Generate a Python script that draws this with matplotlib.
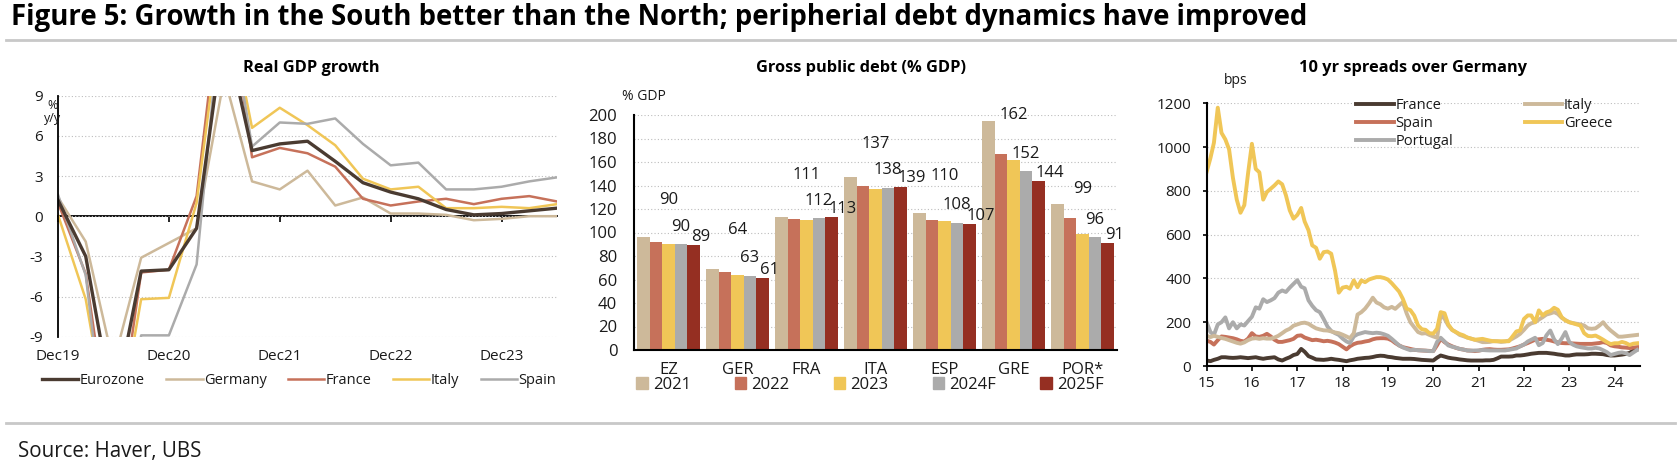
import matplotlib

matplotlib.use("Agg")
import matplotlib.dates as mdates
import matplotlib.pyplot as plt
import numpy as np
import pandas as pd
from matplotlib.lines import Line2D
from matplotlib.patches import Patch

plt.rcParams["font.family"] = ["Open Sans", "DejaVu Sans"]
plt.rcParams["axes.unicode_minus"] = False

# ---------------------------------------------------------------- data
# Real GDP growth, % y/y, quarterly
gdp_quarters = ["Dec19", "Mar20", "Jun20", "Sep20", "Dec20", "Mar21", "Jun21",
                "Sep21", "Dec21", "Mar22", "Jun22", "Sep22", "Dec22", "Mar23",
                "Jun23", "Sep23", "Dec23", "Mar24", "Jun24"]
gdp_tick_labels = ["Dec19", "Dec20", "Dec21", "Dec22", "Dec23"]
gdp_eurozone = [1.2, -3.0, -14.5, -4.1, -4.0, -0.9, 14.2, 4.9, 5.4, 5.6, 4.1,
                2.5, 1.8, 1.3, 0.5, 0.1, 0.2, 0.4, 0.6]
gdp_germany = [1.4, -1.9, -11.0, -3.1, -2.0, -0.9, 10.4, 2.6, 2.0, 3.4, 0.8,
               1.4, 0.2, 0.2, 0.1, -0.3, -0.2, 0.0, 0.0]
gdp_france = [1.0, -4.3, -18.6, -4.2, -4.0, 1.5, 19.0, 4.4, 5.1, 4.7, 3.7,
              1.3, 0.8, 1.1, 1.3, 0.9, 1.3, 1.5, 1.1]
gdp_italy = [0.1, -6.2, -18.0, -6.2, -6.1, 1.0, 17.0, 6.6, 8.1, 6.8, 5.3,
             2.8, 2.0, 2.2, 0.6, 0.6, 0.7, 0.6, 0.9]
gdp_spain = [1.6, -4.4, -21.6, -8.9, -8.9, -3.6, 17.8, 5.2, 7.0, 6.9, 7.3,
             5.4, 3.8, 4.0, 2.0, 2.0, 2.2, 2.6, 2.9]

# Gross public debt, % GDP
debt_countries = ["EZ", "GER", "FRA", "ITA", "ESP", "GRE", "POR*"]
debt_years = ["2021", "2022", "2023", "2024F", "2025F"]
debt_2021 = [96.5, 69, 113, 147, 116.5, 195, 124.5]
debt_2022 = [92, 66, 111.5, 140, 111, 167, 112]
debt_2023 = [90, 64, 111, 137, 110, 162, 99]
debt_2024f = [90, 63, 112, 138, 108, 152, 96]
debt_2025f = [89, 61, 113, 139, 107, 144, 91]

# 10y spreads over Germany, bps, monthly from Jan 2015
spread_start = "2015-01-01"
spread_france = [
    25, 22, 28, 33, 40, 40, 38, 37, 38, 40,
    38, 36, 38, 40, 36, 33, 36, 38, 40, 30,
    25, 33, 40, 50, 55, 78, 65, 45, 38, 30,
    29, 28, 30, 33, 30, 28, 25, 22, 26, 29,
    33, 35, 37, 38, 41, 45, 47, 46, 42, 40,
    37, 35, 33, 33, 33, 32, 30, 28, 27, 26,
    25, 38, 48, 43, 38, 35, 33, 30, 28, 26,
    25, 25, 25, 25, 26, 26, 28, 35, 43, 43,
    43, 44, 48, 48, 50, 53, 56, 58, 60, 60,
    60, 58, 56, 53, 51, 48, 48, 51, 53, 53,
    53, 54, 56, 56, 55, 54, 50, 48, 48, 50,
    52, 55, 60, 70, 75]
spread_spain = [
    116, 110, 98, 118, 135, 133, 130, 127, 122, 115,
    112, 125, 150, 135, 133, 138, 147, 135, 120, 110,
    110, 114, 118, 124, 138, 140, 130, 124, 118, 120,
    117, 113, 115, 112, 107, 100, 88, 76, 90, 100,
    106, 108, 112, 115, 122, 126, 127, 127, 125, 117,
    105, 94, 86, 82, 78, 74, 72, 71, 70, 69,
    68, 95, 124, 109, 98, 90, 83, 78, 75, 71,
    70, 68, 70, 74, 76, 77, 75, 74, 74, 75,
    76, 80, 85, 90, 98, 105, 112, 120, 122, 124,
    120, 117, 112, 108, 105, 104, 104, 103, 102, 101,
    101, 101, 101, 103, 105, 109, 105, 94, 90, 88,
    85, 84, 82, 84, 86]
spread_portugal = [
    200, 155, 142, 190, 200, 222, 172, 200, 172, 190,
    185, 205, 225, 268, 262, 305, 292, 300, 310, 335,
    345, 338, 358, 375, 392, 362, 355, 300, 275, 255,
    246, 215, 180, 160, 150, 142, 125, 112, 105, 135,
    145, 150, 155, 152, 150, 152, 150, 145, 138, 124,
    110, 94, 85, 78, 72, 74, 72, 71, 70, 68,
    68, 110, 129, 112, 94, 88, 84, 78, 75, 71,
    70, 71, 71, 73, 72, 71, 71, 71, 71, 71,
    74, 77, 80, 90, 98, 112, 120, 129, 95, 105,
    140, 162, 122, 100, 125, 155, 110, 97, 90, 86,
    83, 80, 80, 83, 80, 72, 63, 50, 55, 60,
    62, 58, 50, 62, 73]
spread_italy = [
    138, 132, 138, 133, 128, 124, 118, 112, 106, 102,
    108, 118, 125, 127, 124, 127, 125, 125, 130, 138,
    150, 162, 170, 184, 190, 196, 198, 193, 182, 172,
    167, 163, 162, 158, 153, 150, 143, 135, 127, 150,
    235, 246, 262, 285, 312, 290, 282, 268, 262, 270,
    261, 277, 292, 240, 200, 177, 155, 148, 150, 142,
    135, 129, 235, 216, 185, 165, 155, 142, 136, 130,
    125, 120, 115, 109, 109, 110, 114, 113, 110, 112,
    116, 125, 135, 147, 165, 185, 195, 200, 212, 223,
    235, 240, 246, 238, 220, 210, 200, 196, 193, 190,
    185, 172, 170, 172, 185, 200, 178, 162, 148, 134,
    134, 136, 138, 140, 142]
spread_greece = [
    886, 950, 1020, 1180, 1065, 1035, 990, 860, 760, 700,
    735, 880, 1015, 900, 885, 760, 795, 810, 825, 843,
    830, 780, 711, 673, 690, 722, 660, 620, 551, 540,
    490, 520, 523, 513, 435, 335, 358, 362, 353, 391,
    360, 391, 383, 395, 401, 406, 406, 402, 395, 378,
    360, 340, 307, 262, 255, 230, 185, 168, 165, 150,
    148, 170, 246, 241, 190, 165, 155, 146, 140, 130,
    125, 120, 122, 124, 120, 116, 113, 113, 113, 113,
    113, 135, 158, 162, 215, 231, 231, 200, 254, 231,
    245, 251, 266, 257, 223, 208, 200, 195, 190, 185,
    150, 137, 136, 139, 130, 120, 109, 100, 104, 104,
    110, 105, 96, 102, 104]

# ---------------------------------------------------------------- style
DARK = "#4a3b31"
TAN = "#cdb99a"
RED = "#c6715a"
YELLOW = "#f0c657"
GREY = "#ababab"
MAROON = "#952f22"
GRID = dict(color="#bdbdbd", linestyle=(0, (1, 2)), linewidth=0.8)
TXT = "#1a1a1a"

W, H = 1681, 471


def box(left, top, right, bottom):
    """Pixel box -> figure fraction rect."""
    return [left / W, 1 - bottom / H, (right - left) / W, (bottom - top) / H]


fig = plt.figure(figsize=(W / 100, H / 100), dpi=100)

fig.text(11 / W, 1 - 25 / H,
         "Figure 5: Growth in the South better than the North; "
         "peripherial debt dynamics have improved",
         fontsize=19.8, fontweight="bold", color="black", va="baseline")
for y in (40, 422.5):
    fig.add_artist(Line2D([6 / W, 1675 / W], [1 - y / H] * 2,
                          color="#c8c8c8", linewidth=2))
fig.text(18 / W, 1 - 457 / H, "Source: Haver, UBS", fontsize=14.8,
         color=TXT, va="baseline")

for x, title in ((311, "Real GDP growth"), (861, "Gross public debt (% GDP)"),
                 (1413, "10 yr spreads over Germany")):
    fig.text(x / W, 1 - 68 / H, title, fontsize=11.8, fontweight="bold",
             ha="center", va="center", color="black")

# ---------------------------------------------------------------- panel 1
ax1 = fig.add_axes(box(58, 95.7, 557, 336.7))
xq = np.arange(len(gdp_quarters))
series1 = [("Germany", gdp_germany, TAN, 1.8), ("France", gdp_france, RED, 1.8),
           ("Italy", gdp_italy, YELLOW, 1.8), ("Spain", gdp_spain, GREY, 1.8),
           ("Eurozone", gdp_eurozone, DARK, 2.4)]
lines1 = {}
for name, vals, col, lw in series1:
    (lines1[name],) = ax1.plot(xq, vals, color=col, linewidth=lw)
ax1.set_xlim(0, len(gdp_quarters) - 1)
ax1.set_ylim(-9, 9)
ax1.set_yticks([9, 6, 3, 0, -3, -6, -9])
ax1.set_yticklabels(["9", "6", "3", "0", "-3", "-6", "-9"])
ax1.yaxis.grid(True, **GRID)
tick_pos = [gdp_quarters.index(t) for t in gdp_tick_labels]
ax1.set_xticks(tick_pos)
ax1.set_xticklabels(gdp_tick_labels)
ax1.tick_params(axis="x", length=0, pad=9, labelsize=11, labelcolor=TXT)
ax1.tick_params(axis="y", length=0, pad=11, labelsize=11, labelcolor=TXT)
for s in ("top", "right", "bottom"):
    ax1.spines[s].set_visible(False)
ax1.spines["left"].set_linewidth(1.3)
zero = ax1.secondary_xaxis(0.4999)
zero.set_xticks(tick_pos)
zero.set_xticklabels([])
zero.tick_params(length=4, width=1.2, direction="out")
zero.spines["bottom"].set_linewidth(1.3)
ax1.text(-0.01, 0.985, "%\ny/y", transform=ax1.transAxes, fontsize=9,
         ha="center", va="top", linespacing=1.0, color=TXT)
ax1.legend([lines1[n] for n in ("Eurozone", "Germany", "France", "Italy", "Spain")],
           ["Eurozone", "Germany", "France", "Italy", "Spain"],
           loc="upper left", bbox_to_anchor=(42 / W, 1 - 373 / H),
           bbox_transform=fig.transFigure, ncol=5, frameon=False, fontsize=10.5,
           handlelength=2.5, handletextpad=0.1, columnspacing=1.45,
           borderpad=0, borderaxespad=0, labelcolor=TXT)

# ---------------------------------------------------------------- panel 2
ax2 = fig.add_axes(box(634, 115, 1117, 350))
debt_series = [debt_2021, debt_2022, debt_2023, debt_2024f, debt_2025f]
debt_colors = [TAN, RED, YELLOW, GREY, MAROON]
xc = np.arange(len(debt_countries))
bw = 0.182
for k, (vals, col) in enumerate(zip(debt_series, debt_colors)):
    ax2.bar(xc + (k - 2) * bw, vals, width=bw, color=col, zorder=2)
# data labels for 2023, 2024F and 2025F
for k, lift, dx, ha in ((2, 38, 0.0, "center"), (3, 15, 0.0, "center"),
                        (4, 7, -0.04, "left")):
    for i, v in enumerate(debt_series[k]):
        ax2.text(xc[i] + (k - 2) * bw + dx, v + lift, f"{v:.0f}", fontsize=12,
                 ha=ha, va="center", color=TXT, zorder=3)
ax2.set_xlim(-0.5, len(debt_countries) - 0.5)
ax2.set_ylim(0, 200)
ax2.set_yticks(np.arange(0, 201, 20))
ax2.yaxis.grid(True, zorder=0, **GRID)
ax2.set_axisbelow(True)
ax2.set_xticks(xc)
ax2.set_xticklabels(debt_countries)
ax2.tick_params(axis="x", length=0, pad=9, labelsize=12, labelcolor=TXT)
ax2.tick_params(axis="y", length=0, pad=12, labelsize=12, labelcolor=TXT)
for s in ("top", "right"):
    ax2.spines[s].set_visible(False)
for s in ("left", "bottom"):
    ax2.spines[s].set_linewidth(1.5)
ax2.text(-0.025, 1.077, "% GDP", transform=ax2.transAxes, fontsize=10,
         ha="left", va="center", color=TXT)
ax2.legend([Patch(color=c) for c in debt_colors], debt_years,
           loc="upper left", bbox_to_anchor=(636 / W, 1 - 377 / H),
           bbox_transform=fig.transFigure, ncol=5, frameon=False, fontsize=12,
           handlelength=0.7, handleheight=0.7, handletextpad=0.3,
           columnspacing=2.65, borderpad=0, borderaxespad=0, labelcolor=TXT)

# ---------------------------------------------------------------- panel 3
ax3 = fig.add_axes(box(1206.6, 103.3, 1639.5, 366))
months = pd.date_range(spread_start, periods=len(spread_greece), freq="MS")
series3 = [("France", spread_france, DARK), ("Spain", spread_spain, RED),
           ("Portugal", spread_portugal, GREY), ("Italy", spread_italy, TAN),
           ("Greece", spread_greece, YELLOW)]
handles3 = []
for name, vals, col in series3:
    (ln,) = ax3.plot(months, vals, color=col, linewidth=2.8, label=name)
    handles3.append(ln)
ax3.set_xlim(pd.Timestamp("2015-01-01"), pd.Timestamp("2024-07-20"))
ax3.set_ylim(0, 1200)
ax3.set_yticks(np.arange(0, 1201, 200))
ax3.yaxis.grid(True, **GRID)
ax3.xaxis.set_major_locator(mdates.YearLocator())
ax3.xaxis.set_major_formatter(mdates.DateFormatter("%y"))
ax3.tick_params(axis="x", length=3.5, width=1.2, pad=4, labelsize=11,
                labelcolor=TXT)
ax3.tick_params(axis="y", length=3, width=1.2, pad=8, labelsize=11,
                labelcolor=TXT)
for s in ("top", "right"):
    ax3.spines[s].set_visible(False)
for s in ("left", "bottom"):
    ax3.spines[s].set_linewidth(1.5)
ax3.text(0.04, 1.085, "bps", transform=ax3.transAxes, fontsize=10,
         ha="left", va="center", color=TXT)
ax3.legend(handles3, [s[0] for s in series3], loc="upper left",
           bbox_to_anchor=(1356 / W, 1 - 98 / H), bbox_transform=fig.transFigure,
           ncol=2, frameon=False, fontsize=10.5, handlelength=2.6,
           handletextpad=0.1, columnspacing=4.9, labelspacing=0.2,
           borderpad=0, borderaxespad=0, labelcolor=TXT)

fig.savefig("out.png", dpi=100)
